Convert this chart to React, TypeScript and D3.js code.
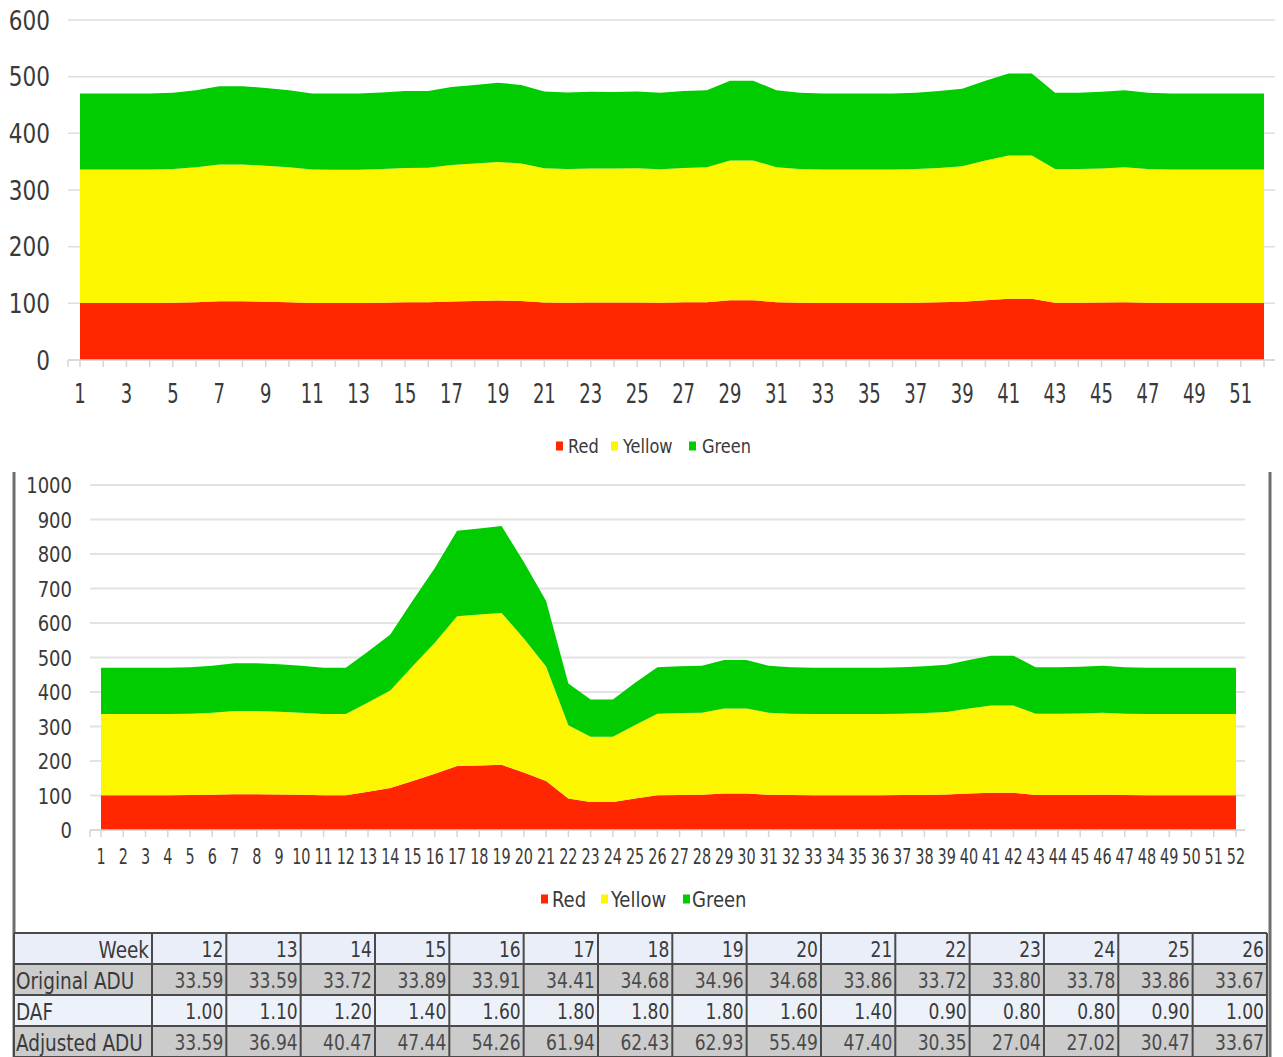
import React from "react";
import * as d3 from "d3";

// Week numbers on both charts
const WEEKS = d3.range(1, 53);

// Buffer zones per week, planned with the original average daily usage
const redOriginal = [100.8, 100.8, 100.8, 100.8, 101.1, 102.0, 103.5, 103.5, 102.9, 102.0, 100.8, 100.8, 100.8, 101.2, 101.7, 101.7, 103.2, 104.0, 104.9, 104.0, 101.6, 101.2, 101.4, 101.3, 101.6, 101.0, 101.7, 102.0, 105.6, 105.6, 102.0, 101.1, 100.8, 100.8, 100.8, 100.8, 101.1, 101.7, 102.6, 105.6, 108.3, 108.3, 101.1, 101.1, 101.4, 102.0, 101.1, 100.8, 100.8, 100.8, 100.8, 100.8];
const yellowOriginal = [235.2, 235.2, 235.2, 235.2, 235.9, 238.0, 241.5, 241.5, 240.1, 238.0, 235.2, 235.1, 235.1, 236.0, 237.2, 237.4, 240.9, 242.8, 244.7, 242.8, 237.0, 236.0, 236.6, 236.5, 237.0, 235.7, 237.3, 238.0, 246.4, 246.4, 238.0, 235.9, 235.2, 235.2, 235.2, 235.2, 235.9, 237.3, 239.4, 246.4, 252.7, 252.7, 235.9, 235.9, 236.6, 238.0, 235.9, 235.2, 235.2, 235.2, 235.2, 235.2];
const greenOriginal = [134.4, 134.4, 134.4, 134.4, 134.8, 136.0, 138.0, 138.0, 137.2, 136.0, 134.4, 134.4, 134.4, 134.9, 135.6, 135.6, 137.6, 138.7, 139.8, 138.7, 135.4, 134.9, 135.2, 135.1, 135.4, 134.7, 135.6, 136.0, 140.8, 140.8, 136.0, 134.8, 134.4, 134.4, 134.4, 134.4, 134.8, 135.6, 136.8, 140.8, 144.4, 144.4, 134.8, 134.8, 135.2, 136.0, 134.8, 134.4, 134.4, 134.4, 134.4, 134.4];

// Buffer zones per week after the demand adjustment factors are applied
const redAdjusted = [100.8, 100.8, 100.8, 100.8, 101.1, 102.0, 103.5, 103.5, 102.9, 102.0, 100.8, 100.8, 110.8, 121.4, 142.3, 162.8, 185.8, 187.3, 188.8, 166.5, 142.2, 91.1, 81.1, 81.1, 91.4, 101.0, 101.7, 102.0, 105.6, 105.6, 102.0, 101.1, 100.8, 100.8, 100.8, 100.8, 101.1, 101.7, 102.6, 105.6, 108.3, 108.3, 101.1, 101.1, 101.4, 102.0, 101.1, 100.8, 100.8, 100.8, 100.8, 100.8];
const yellowAdjusted = [235.2, 235.2, 235.2, 235.2, 235.9, 238.0, 241.5, 241.5, 240.1, 238.0, 235.2, 235.1, 258.6, 283.3, 332.1, 379.8, 433.6, 437.0, 440.5, 388.4, 331.8, 212.5, 189.3, 189.1, 213.3, 235.7, 237.3, 238.0, 246.4, 246.4, 238.0, 235.9, 235.2, 235.2, 235.2, 235.2, 235.9, 237.3, 239.4, 246.4, 252.7, 252.7, 235.9, 235.9, 236.6, 238.0, 235.9, 235.2, 235.2, 235.2, 235.2, 235.2];
const greenAdjusted = [134.4, 134.4, 134.4, 134.4, 134.8, 136.0, 138.0, 138.0, 137.2, 136.0, 134.4, 134.4, 147.8, 161.9, 189.8, 217.0, 247.8, 249.7, 251.7, 222.0, 189.6, 121.4, 108.2, 108.1, 121.9, 134.7, 135.6, 136.0, 140.8, 140.8, 136.0, 134.8, 134.4, 134.4, 134.4, 134.4, 134.8, 135.6, 136.8, 140.8, 144.4, 144.4, 134.8, 134.8, 135.2, 136.0, 134.8, 134.4, 134.4, 134.4, 134.4, 134.4];

// Adjustment table
const tableWeeks = [12, 13, 14, 15, 16, 17, 18, 19, 20, 21, 22, 23, 24, 25, 26];
const originalADU = [33.59, 33.59, 33.72, 33.89, 33.91, 34.41, 34.68, 34.96, 34.68, 33.86, 33.72, 33.80, 33.78, 33.86, 33.67];
const dafValues = [1.0, 1.1, 1.2, 1.4, 1.6, 1.8, 1.8, 1.8, 1.6, 1.4, 0.9, 0.8, 0.8, 0.9, 1.0];
const adjustedADU = [33.59, 36.94, 40.47, 47.44, 54.26, 61.94, 62.43, 62.93, 55.49, 47.40, 30.35, 27.04, 27.02, 30.47, 33.67];

const ZONES = ["Red", "Yellow", "Green"];
const ZONE_COLORS: Record<string, string> = { Red: "#ff2600", Yellow: "#fcf600", Green: "#00cc00" };

const FONT = "'DejaVu Sans Condensed', 'DejaVu Sans', sans-serif";
const TEXT = "#3a3a3a";

type TxtProps = {
  x: number;
  y: number;
  size: number;
  sy?: number;
  anchor?: "start" | "middle" | "end";
  fill?: string;
  children: React.ReactNode;
};

// Text vertically centred on y, optionally stretched vertically
function Txt({ x, y, size, sy = 1, anchor = "start", fill = TEXT, children }: TxtProps) {
  const base = y + 0.365 * size * sy;
  return (
    <text
      transform={`translate(${x},${base}) scale(1,${sy})`}
      textAnchor={anchor}
      fontSize={size}
      fontFamily={FONT}
      fontStretch="condensed"
      fill={fill}
    >
      {children}
    </text>
  );
}

type ChartCfg = {
  x0: number;
  x1: number;
  gx0: number;
  gx1: number;
  yTop: number;
  yBottom: number;
  yMax: number;
  yLabelX: number;
  yLabelSize: number;
  yLabelSy: number;
  xLabelY: number;
  xLabelSize: number;
  xLabelSy: number;
  xLabelStep: number;
  gridColor: string;
  gridWidth: number;
};

function StackedZones({ red, yellow, green, cfg }: { red: number[]; yellow: number[]; green: number[]; cfg: ChartCfg }) {
  const rows = WEEKS.map((w, i) => ({ week: w, Red: red[i], Yellow: yellow[i], Green: green[i] }));
  const series = d3.stack<any>().keys(ZONES)(rows);
  const x = d3.scaleLinear().domain([1, 52]).range([cfg.x0, cfg.x1]);
  const y = d3.scaleLinear().domain([0, cfg.yMax]).range([cfg.yBottom, cfg.yTop]);
  const area = d3
    .area<any>()
    .x((d) => x(d.data.week))
    .y0((d) => y(d[0]))
    .y1((d) => y(d[1]));
  const yTicks = y.ticks(cfg.yMax / 100);
  const xLabels = WEEKS.filter((w) => (w - 1) % cfg.xLabelStep === 0);
  return (
    <g>
      {yTicks.map((t) => (
        <line key={"g" + t} x1={cfg.gx0} x2={cfg.gx1} y1={y(t)} y2={y(t)} stroke={cfg.gridColor} strokeWidth={cfg.gridWidth} />
      ))}
      {series.map((s) => (
        <path key={s.key} d={area(s as any) || ""} fill={ZONE_COLORS[s.key]} />
      ))}
      <line x1={cfg.gx0} x2={cfg.gx1} y1={cfg.yBottom} y2={cfg.yBottom} stroke="#d6d6d6" strokeWidth={1.5} />
      {[cfg.gx0, ...WEEKS.map((w) => x(w))].map((px, i) => (
        <line key={"t" + i} x1={px} x2={px} y1={cfg.yBottom} y2={cfg.yBottom + 7} stroke="#d6d6d6" strokeWidth={1.5} />
      ))}
      {yTicks.map((t) => (
        <Txt key={"yl" + t} x={cfg.yLabelX} y={y(t)} size={cfg.yLabelSize} sy={cfg.yLabelSy} anchor="end">
          {t}
        </Txt>
      ))}
      {xLabels.map((w) => (
        <Txt key={"xl" + w} x={x(w)} y={cfg.xLabelY} size={cfg.xLabelSize} sy={cfg.xLabelSy} anchor="middle">
          {w}
        </Txt>
      ))}
    </g>
  );
}

function ZoneLegend({ y, size, squares, texts }: { y: number; size: number; squares: number[]; texts: number[] }) {
  return (
    <g>
      {ZONES.map((z, i) => (
        <g key={z}>
          <rect x={squares[i]} y={y - 4.5} width={7} height={9} fill={ZONE_COLORS[z]} />
          <Txt x={texts[i]} y={y} size={size} sy={1.05}>
            {z}
          </Txt>
        </g>
      ))}
    </g>
  );
}

function AdjustmentTable() {
  const left = 14;
  const firstW = 138;
  const colW = 74.33;
  const top = 933;
  const rowH = 31;
  const rows = [
    { label: "Week", values: tableWeeks.map((v) => String(v)), fill: "#e9eef8", labelRight: true },
    { label: "Original ADU", values: originalADU.map((v) => v.toFixed(2)), fill: "#cbcbcb", labelRight: false },
    { label: "DAF", values: dafValues.map((v) => v.toFixed(2)), fill: "#edf1f9", labelRight: false },
    { label: "Adjusted ADU", values: adjustedADU.map((v) => v.toFixed(2)), fill: "#cbcbcb", labelRight: false },
  ];
  const right = left + firstW + colW * tableWeeks.length;
  const colEdges = [left, ...d3.range(tableWeeks.length + 1).map((i) => left + firstW + i * colW)];
  return (
    <g>
      {rows.map((r, ri) => {
        const ry = top + ri * rowH;
        return (
          <g key={r.label}>
            <rect x={left} y={ry} width={right - left} height={rowH} fill={r.fill} />
            <Txt x={r.labelRight ? left + firstW - 3 : left + 2} y={ry + rowH / 2 + 1} size={20.5} sy={1.12} anchor={r.labelRight ? "end" : "start"}>
              {r.label}
            </Txt>
            {r.values.map((v, ci) => (
              <Txt key={ci} x={left + firstW + (ci + 1) * colW - 3} y={ry + rowH / 2 + 1} size={19} sy={1.15} anchor="end" fill={ri % 2 === 1 ? "#4a4a4a" : TEXT}>
                {v}
              </Txt>
            ))}
          </g>
        );
      })}
      {d3.range(rows.length + 1).map((i) => (
        <line key={"h" + i} x1={left} x2={right} y1={top + i * rowH} y2={top + i * rowH} stroke="#4a4a4a" strokeWidth={2} />
      ))}
      {colEdges.map((cx, i) => (
        <line key={"v" + i} x1={cx} x2={cx} y1={top} y2={top + rows.length * rowH} stroke="#4a4a4a" strokeWidth={2} />
      ))}
    </g>
  );
}

const topCfg: ChartCfg = {
  x0: 80,
  x1: 1264,
  gx0: 68,
  gx1: 1275,
  yTop: 20,
  yBottom: 360,
  yMax: 600,
  yLabelX: 50,
  yLabelSize: 24,
  yLabelSy: 1.1,
  xLabelY: 393,
  xLabelSize: 20,
  xLabelSy: 1.37,
  xLabelStep: 2,
  gridColor: "#dedede",
  gridWidth: 1.5,
};

const bottomCfg: ChartCfg = {
  x0: 101,
  x1: 1236,
  gx0: 90,
  gx1: 1245,
  yTop: 485,
  yBottom: 830,
  yMax: 1000,
  yLabelX: 72,
  yLabelSize: 20,
  yLabelSy: 1.1,
  xLabelY: 856,
  xLabelSize: 16,
  xLabelSy: 1.3,
  xLabelStep: 1,
  gridColor: "#e3e3e3",
  gridWidth: 2,
};

export default function App() {
  return (
    <svg
      width={1283}
      height={1057}
      viewBox="0 0 1283 1057"
      style={{ position: "absolute", left: 0, top: 0, display: "block", background: "#ffffff" }}
    >
      <rect x={0} y={0} width={1283} height={1057} fill="#ffffff" />
      <StackedZones red={redOriginal} yellow={yellowOriginal} green={greenOriginal} cfg={topCfg} />
      <ZoneLegend y={446} size={18} squares={[556, 611, 689]} texts={[568, 623, 702]} />

      {/* framed panel holding the adjusted chart and its table */}
      <line x1={14} x2={14} y1={472} y2={1057} stroke="#6e6e6e" strokeWidth={3} />
      <line x1={1270} x2={1270} y1={472} y2={1057} stroke="#6e6e6e" strokeWidth={3} />
      <StackedZones red={redAdjusted} yellow={yellowAdjusted} green={greenAdjusted} cfg={bottomCfg} />
      <ZoneLegend y={899} size={20} squares={[541, 601, 683]} texts={[552, 611, 692]} />
      <AdjustmentTable />
    </svg>
  );
}
